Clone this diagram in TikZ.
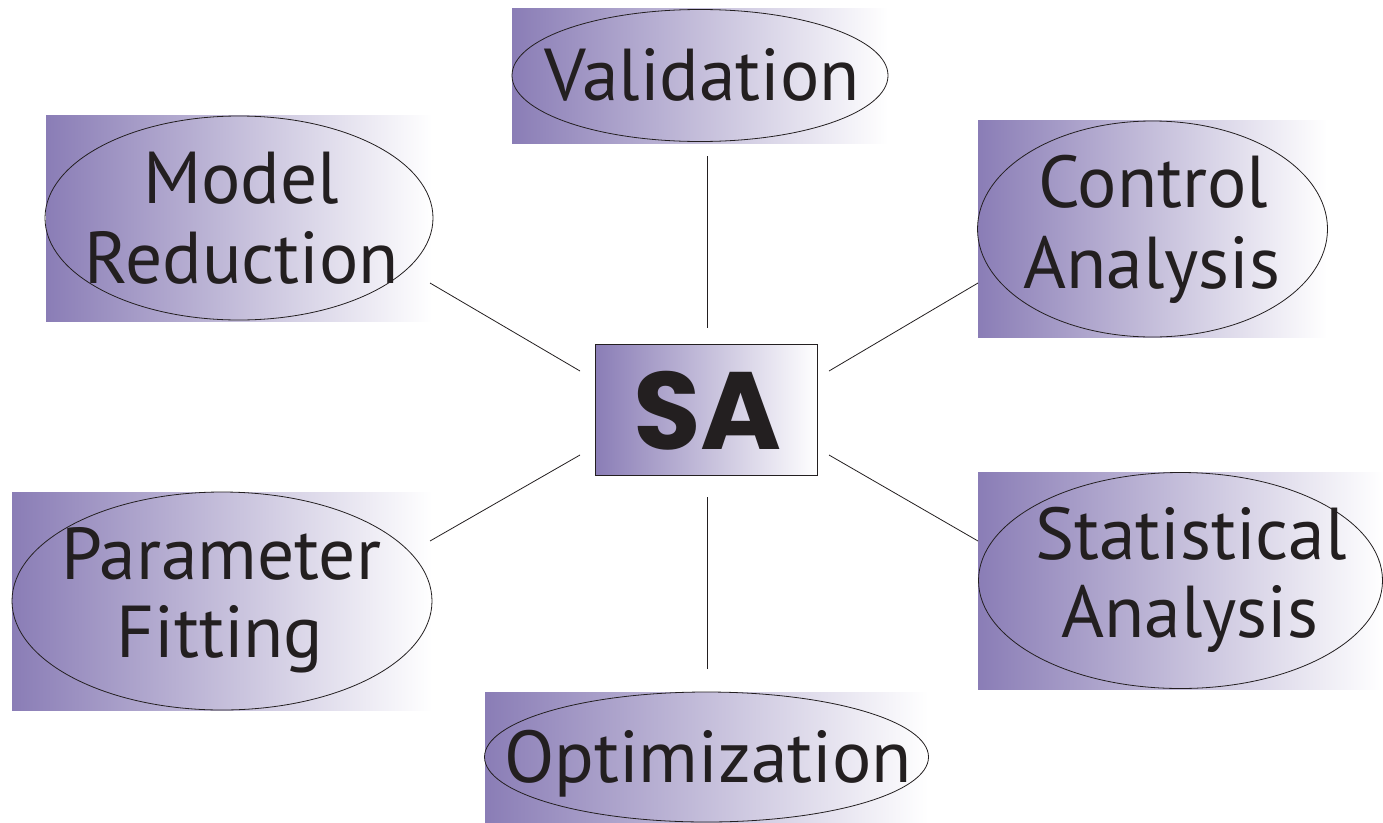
\documentclass[tikz,border=0pt]{standalone}
\usepackage{fontspec}
\setmainfont{PT Sans}
\newfontfamily\hubfont{Poppins}
\definecolor{pleft}{RGB}{138,125,182}
\definecolor{pmid}{RGB}{184,172,214}
\definecolor{ink}{RGB}{35,31,32}
\tikzset{
  conceptbg/.style={rectangle, inner sep=0pt, draw=none,
    left color=pleft, middle color=pmid, right color=white},
  oval/.style={draw=ink, line width=0.8pt},
  lbl/.style={anchor=base, inner sep=0pt, text=ink,
    font=\fontsize{73.5}{80}\selectfont},
  hub/.style={conceptbg, draw=ink, line width=0.8pt},
  hublbl/.style={anchor=base, inner sep=0pt, text=ink,
    font=\hubfont\bfseries\fontsize{110}{116}\selectfont},
  link/.style={draw=ink, line width=0.8pt}
}
\begin{document}
\begin{tikzpicture}[x=1pt,y=-1pt]
\useasboundingbox (0,0) rectangle (1383,822);

% shaded backgrounds of the six topics
\node[conceptbg, minimum width=376pt, minimum height=135pt] (val) at (700,75.5) {};
\node[conceptbg, minimum width=386pt, minimum height=206pt] (mod) at (239,218) {};
\node[conceptbg, minimum width=349pt, minimum height=217pt] (ctl) at (1152.5,229) {};
\node[conceptbg, minimum width=420pt, minimum height=218pt] (par) at (222,601) {};
\node[conceptbg, minimum width=405pt, minimum height=217pt] (sta) at (1180.5,580.5) {};
\node[conceptbg, minimum width=443pt, minimum height=130pt] (opt) at (706.5,757) {};

% oval outlines
\draw[oval] (val.center) ellipse [x radius=188pt, y radius=66pt];
\draw[oval] (mod.center) ellipse [x radius=194pt, y radius=102pt];
\draw[oval] (ctl.center) ellipse [x radius=175pt, y radius=108pt];
\draw[oval] (par.center) ellipse [x radius=210pt, y radius=109pt];
\draw[oval] (sta.center) ellipse [x radius=202pt, y radius=108pt];
\draw[oval] (opt.center) ellipse [x radius=222pt, y radius=65pt];

% topic labels
\node[lbl] (val-t) at (702,100) {Validation};
\node[lbl] (mod-t1) at (241,203) {Model};
\node[lbl] (mod-t2) at (242,283) {Reduction};
\node[lbl] (ctl-t1) at (1153,207) {Control};
\node[lbl] (ctl-t2) at (1152,288) {Analysis};
\node[lbl] (par-t1) at (221,579) {Parameter};
\node[lbl] (par-t2) at (220,657) {Fitting};
\node[lbl] (sta-t1) at (1191,559) {Statistical};
\node[lbl] (sta-t2) at (1190,637) {Analysis};
\node[lbl] (opt-t) at (708,782) {Optimization};

% central box
\node[hub, minimum width=222pt, minimum height=131pt] (sa) at (706,409.5) {};
\node[hublbl] (sa-t) at (707.5,449) {SA};

% connector ends
\coordinate (val-e) at (707,156);  \coordinate (sa-n)  at (707,328);
\coordinate (mod-e) at (430,283);  \coordinate (sa-nw) at (580,371);
\coordinate (ctl-e) at (978,283);  \coordinate (sa-ne) at (829,371);
\coordinate (par-e) at (430,541);  \coordinate (sa-sw) at (580,455);
\coordinate (sta-e) at (978,541);  \coordinate (sa-se) at (829,455);
\coordinate (opt-e) at (707,669);  \coordinate (sa-s)  at (707,497);

\draw[link] (val-e) -- (sa-n);
\draw[link] (mod-e) -- (sa-nw);
\draw[link] (ctl-e) -- (sa-ne);
\draw[link] (par-e) -- (sa-sw);
\draw[link] (sta-e) -- (sa-se);
\draw[link] (opt-e) -- (sa-s);
\end{tikzpicture}
\end{document}
